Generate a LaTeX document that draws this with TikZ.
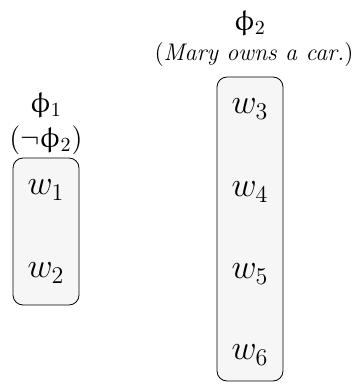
\documentclass[tikz,border=0pt]{standalone}
\usepackage{upgreek}
\usetikzlibrary{positioning}

\begin{document}
\begin{tikzpicture}[
  x=1pt,y=1pt,
  world/.style={font=\LARGE,inner sep=1pt},
  cell/.style={draw,rounded corners=5pt,fill=gray!7,minimum width=33pt,inner sep=0pt},
  prop/.style={font=\Large,align=center,inner sep=1pt},
]
\useasboundingbox (0,0) rectangle (178.5,-192.5);

% === Cells ===
\node[cell,minimum height=73.5pt] (cellA) at (23,-115.75) {};
\node[cell,minimum height=152pt] (cellB) at (125,-114.5) {};

% === Worlds ===
\node[world] (w1) at (23,-95) {$w_1$};
\node[world] (w2) at (23,-136.5) {$w_2$};
\node[world] (w3) at (125,-54.5) {$w_3$};
\node[world] (w4) at (125,-96) {$w_4$};
\node[world] (w5) at (125,-137) {$w_5$};
\node[world] (w6) at (125,-177.5) {$w_6$};

% === Propositions ===
\node[prop] (phiA) at (23,-52.5) {$\upphi_1$};
\node[prop] (negB) at (23,-70) {$(\neg\upphi_2)$};
\node[prop] (phiB) at (125,-11.5) {$\upphi_2$};
\node[prop,font=\large] (mary) at (127,-27.5) {(\textit{Mary owns a car.})};

\end{tikzpicture}
\end{document}
